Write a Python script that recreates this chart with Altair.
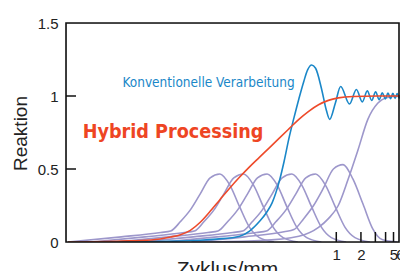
import altair as alt
import pandas as pd

# ---------------- data ----------------
x_label_values = [1, 2, 5, 6]
x_tick_values = [1, 2, 3, 4, 5]
y_label_values = [0, 0.5, 1, 1.5]
y_tick_values = [0.5, 1]

bump1_x = [0.00053, 0.00237, 0.00719, 0.00949, 0.0125, 0.0165, 0.0218, 0.0288, 0.0379, 0.0501, 0.0661, 0.0872, 0.115, 0.174]
bump1_y = [0, 0.035, 0.065, 0.075, 0.14, 0.22, 0.33, 0.44, 0.466, 0.39, 0.24, 0.10, 0.03, 0.0]
bump2_x = [0.00103, 0.00461, 0.0140, 0.0185, 0.0243, 0.0321, 0.0424, 0.0560, 0.0738, 0.0975, 0.129, 0.170, 0.224, 0.339]
bump2_y = [0, 0.035, 0.065, 0.075, 0.14, 0.22, 0.33, 0.44, 0.466, 0.39, 0.24, 0.10, 0.03, 0.0]
bump3_x = [0.00201, 0.00897, 0.0272, 0.0359, 0.0473, 0.0624, 0.0825, 0.109, 0.143, 0.190, 0.250, 0.330, 0.435, 0.658]
bump3_y = [0, 0.035, 0.065, 0.075, 0.14, 0.22, 0.33, 0.44, 0.466, 0.39, 0.24, 0.10, 0.03, 0.0]
bump4_x = [0.00401, 0.0179, 0.0544, 0.0718, 0.0946, 0.125, 0.165, 0.218, 0.287, 0.379, 0.500, 0.660, 0.870, 1.32]
bump4_y = [0, 0.035, 0.065, 0.075, 0.14, 0.22, 0.33, 0.44, 0.466, 0.39, 0.24, 0.10, 0.03, 0.0]
bump5_x = [0.0078, 0.0349, 0.106, 0.140, 0.184, 0.243, 0.321, 0.424, 0.558, 0.737, 0.973, 1.28, 1.69, 2.56]
bump5_y = [0, 0.035, 0.065, 0.075, 0.14, 0.22, 0.33, 0.44, 0.466, 0.39, 0.24, 0.10, 0.03, 0.0]
bump6_x = [0.017, 0.0758, 0.230, 0.304, 0.400, 0.528, 0.698, 0.922, 1.21, 1.60, 2.12, 2.79, 3.68, 5.57]
bump6_y = [0, 0.035, 0.07, 0.085, 0.16, 0.25, 0.37, 0.50, 0.53, 0.43, 0.26, 0.09, 0.015, 0.0]
step_x = [0.0218, 0.115, 0.349, 0.607, 0.801, 1.057, 1.395, 1.840, 2.428, 3.204, 4.228, 6.0]
step_y = [0, 0.01, 0.04, 0.10, 0.16, 0.25, 0.43, 0.63, 0.84, 0.95, 0.99, 1.0]

hybrid_x = [0.00053, 0.00237, 0.00545, 0.00949, 0.0125, 0.0165, 0.0218, 0.0288, 0.0379, 0.0501, 0.0661, 0.0872,
            0.115, 0.152, 0.200, 0.264, 0.349, 0.460, 0.607, 0.801, 1.057, 1.60, 3.20, 6.0]
hybrid_y = [0, 0.007, 0.014, 0.034, 0.05, 0.08, 0.135, 0.21, 0.29, 0.37, 0.445, 0.515,
            0.58, 0.645, 0.71, 0.775, 0.84, 0.895, 0.94, 0.97, 0.987, 0.997, 1.0, 1.0]

conv_x = [0.00053, 0.00545, 0.0218, 0.0349, 0.0661, 0.0872, 0.115, 0.140, 0.165, 0.200, 0.230, 0.264, 0.304,
          0.349, 0.401, 0.448, 0.50, 0.559, 0.660, 0.758, 0.83, 0.973, 1.13, 1.45, 1.76, 2.08, 2.39, 2.71,
          3.02, 3.34, 3.65, 3.97, 4.28, 4.60, 4.91, 5.23, 5.54, 5.86, 6.0]
conv_y = [0, 0.003, 0.012, 0.02, 0.04, 0.075, 0.14, 0.20, 0.27, 0.41, 0.55, 0.71, 0.85,
          0.98, 1.10, 1.18, 1.212, 1.19, 1.05, 0.90, 0.84, 0.95, 1.065, 0.945, 1.045, 0.96, 1.035, 0.97,
          1.028, 0.975, 1.022, 0.98, 1.02, 0.982, 1.018, 0.984, 1.016, 0.985, 1.0]

label_conv = "Konventionelle Verarbeitung"
label_conv_pos = (0.00245, 1.06)
label_hybrid = "Hybrid Processing"
label_hybrid_pos = (0.0008, 0.712)

# ---------------- build tables ----------------
bumps = []
for i, (xs, ys) in enumerate([(bump1_x, bump1_y), (bump2_x, bump2_y), (bump3_x, bump3_y),
                              (bump4_x, bump4_y), (bump5_x, bump5_y), (bump6_x, bump6_y),
                              (step_x, step_y)]):
    for a, b in zip(xs, ys):
        bumps.append({"x": a, "y": b, "s": i})
bumps = pd.DataFrame(bumps)
hybrid = pd.DataFrame({"x": hybrid_x, "y": hybrid_y})
conv = pd.DataFrame({"x": conv_x, "y": conv_y})
xt = pd.DataFrame({"x": x_tick_values})
yt = pd.DataFrame({"y": y_tick_values})
t1 = pd.DataFrame({"x": [label_conv_pos[0]], "y": [label_conv_pos[1]], "t": [label_conv]})
t2 = pd.DataFrame({"x": [label_hybrid_pos[0]], "y": [label_hybrid_pos[1]], "t": [label_hybrid]})
frame = pd.DataFrame({"k": [0]})

W, H = 334, 219
FONT = "Liberation Sans, Arial, Helvetica, sans-serif"
NARROW = "DejaVu Sans Condensed, Liberation Sans, sans-serif"

xscale = alt.Scale(type="log", domain=[0.0005, 6.0], nice=False)
yscale = alt.Scale(domain=[0, 1.5], nice=False, zero=False)
xaxis = alt.Axis(values=x_label_values, format="d", domain=False, ticks=False, grid=False,
                 labelFontSize=15, labelFont=FONT, labelColor="#222", labelPadding=5,
                 labelFlush=False, labelOverlap=False,
                 titleFontSize=21, titleFont=FONT, titleFontWeight="normal", titleColor="#222",
                 titleX=161, titleY=33, titleBaseline="alphabetic", titleAnchor="middle")
yaxis = alt.Axis(values=y_label_values, format="~g", domain=False, ticks=False, grid=False,
                 labelFontSize=15, labelFont=FONT, labelColor="#222", labelPadding=8,
                 labelFlush=False, labelOverlap=False,
                 titleFontSize=19, titleFont=FONT, titleFontWeight="normal", titleColor="#222",
                 titleX=-46, titleY=110, titleAngle=-90, titleBaseline="middle", titleAlign="center")
X = alt.X("x:Q", scale=xscale, axis=xaxis, title="Zyklus/mm")
Y = alt.Y("y:Q", scale=yscale, axis=yaxis, title="Reaktion")

bump_layer = alt.Chart(bumps).mark_line(color="#9d97cb", strokeWidth=1.6, interpolate="monotone", clip=True).encode(
    x=X, y=Y, detail="s:N")
conv_layer = alt.Chart(conv).mark_line(color="#1a87c8", strokeWidth=1.6, interpolate="monotone", clip=True).encode(x=X, y=Y)
hyb_layer = alt.Chart(hybrid).mark_line(color="#ee4a2a", strokeWidth=1.6, interpolate="monotone", clip=True).encode(x=X, y=Y)
xtick_layer = alt.Chart(xt).mark_rule(color="#111", strokeWidth=1.5).encode(
    x=X, y=alt.value(H), y2=alt.value(H - 10))
ytick_layer = alt.Chart(yt).mark_rule(color="#111", strokeWidth=1.5).encode(
    y=Y, x=alt.value(0), x2=alt.value(10))
frame_layer = alt.Chart(frame).mark_rect(fill="transparent", stroke="#111", strokeWidth=1.6).encode(
    x=alt.value(0), x2=alt.value(W - 1), y=alt.value(0), y2=alt.value(H))
text1 = alt.Chart(t1).mark_text(align="left", baseline="alphabetic", font=NARROW, fontSize=13.5,
                                color="#1a87c8").encode(x=X, y=Y, text="t:N")
text2 = alt.Chart(t2).mark_text(align="left", baseline="alphabetic", font=NARROW, fontSize=19.6,
                                fontWeight="bold", color="#ee4523").encode(x=X, y=Y, text="t:N")

chart = alt.layer(bump_layer, conv_layer, hyb_layer, xtick_layer, ytick_layer, frame_layer, text1, text2).properties(
    width=W, height=H,
    autosize=alt.AutoSizeParams(type="none"),
    padding={"left": 58, "top": 15, "right": 0, "bottom": 40},
).configure_view(stroke=None).configure(background="white")

chart.save("out.html", embed_options={"renderer": "svg", "actions": False})
